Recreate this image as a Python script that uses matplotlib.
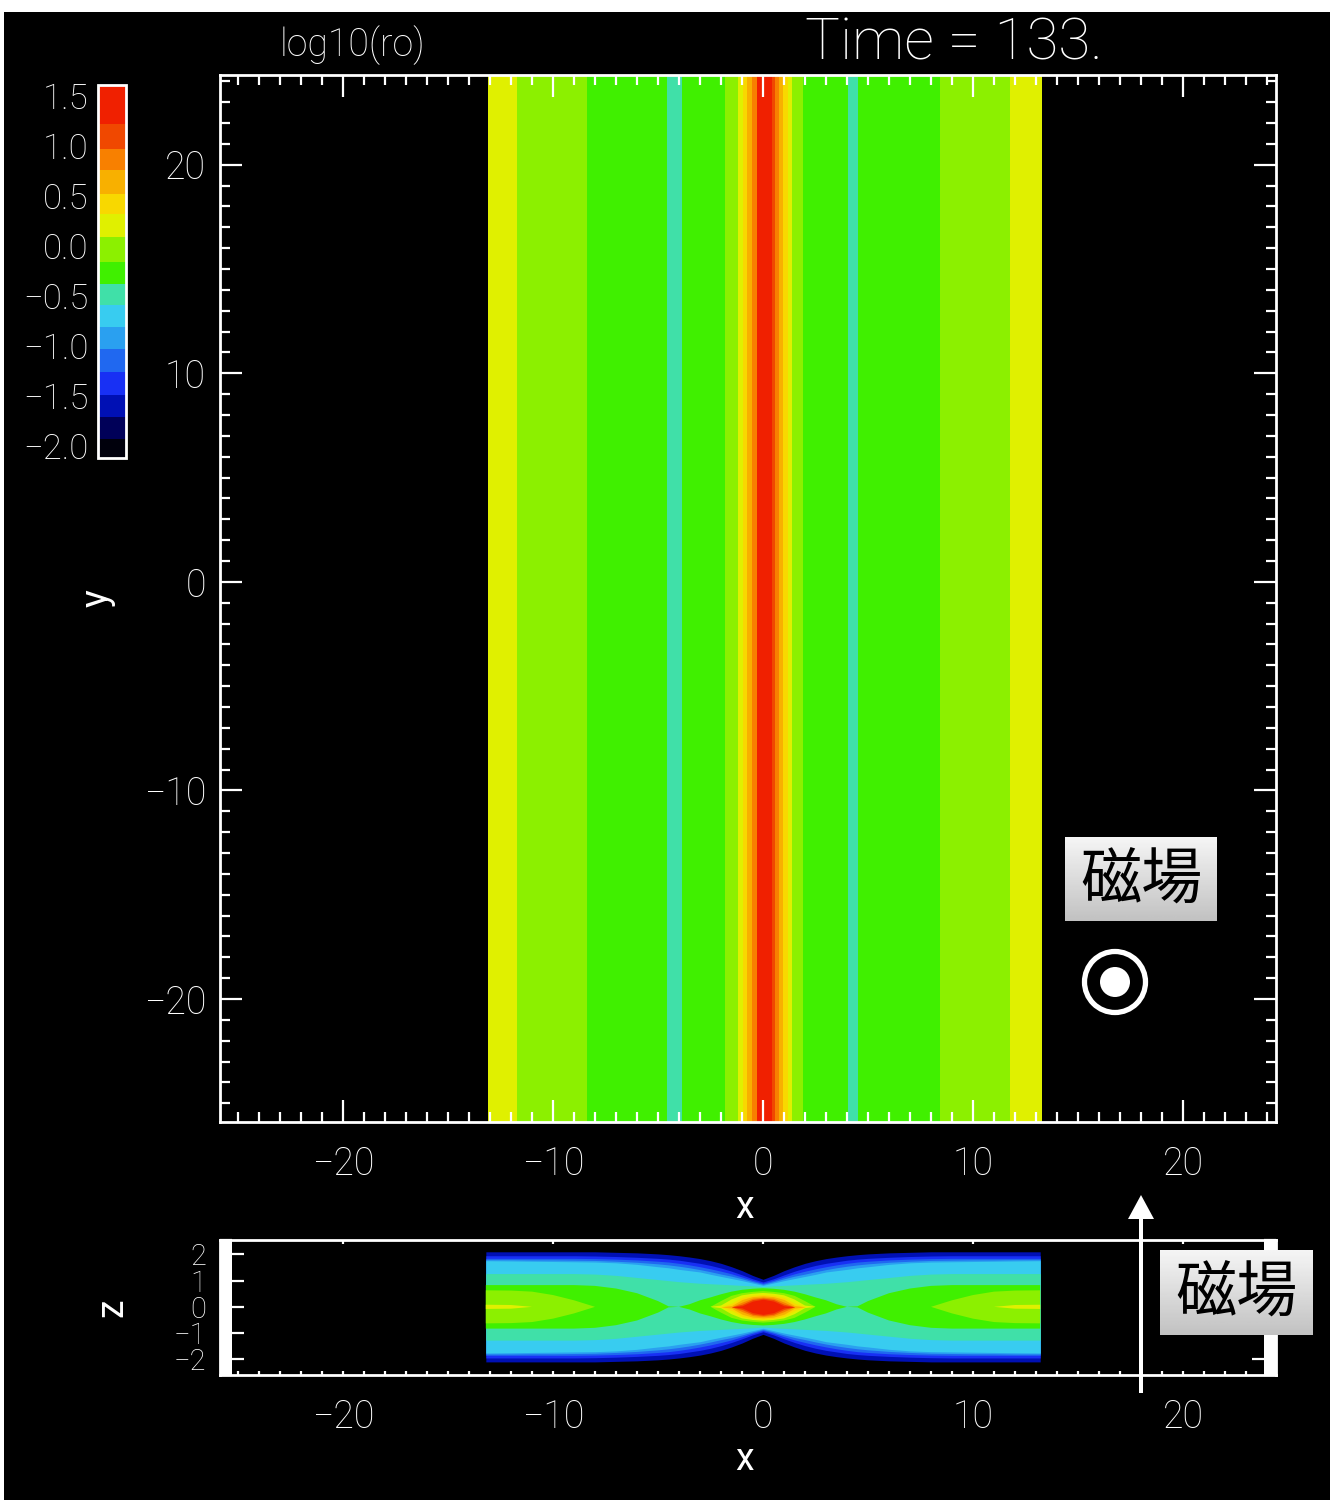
import numpy as np
import matplotlib
matplotlib.use("Agg")
import matplotlib.pyplot as plt
from matplotlib.colors import ListedColormap, BoundaryNorm
from matplotlib.cm import ScalarMappable
from matplotlib.ticker import MultipleLocator, FuncFormatter
from matplotlib.patches import Circle, Rectangle, FancyArrow

# colour table for log10(ro)
levels = [-2.12, -1.93, -1.71, -1.49, -1.26, -1.03, -0.81, -0.59, -0.38,
          -0.16, 0.09, 0.32, 0.52, 0.76, 0.97, 1.22, 1.61]
colors = ["#00000c", "#000058", "#0010b4", "#1830f4", "#2068f0", "#2aa0f0",
          "#38ccf0", "#40e0a8", "#40f000", "#8cf000", "#e0f000", "#f8d800",
          "#f8b000", "#f88000", "#f04800", "#f02000"]
cbar_ticks = [1.5, 1.0, 0.5, 0.0, -0.5, -1.0, -1.5, -2.0]

# x-y cut : log10(ro) is the same for every y
x_edges = [-13.10, -11.71, -8.38, -4.57, -3.86, -1.81, -1.19, -0.95, -0.76,
           -0.52, -0.29, 0.43, 0.57, 0.76, 0.95, 1.19, 1.38, 1.90, 4.05,
           4.52, 8.43, 11.76, 13.29]
log_ro_xy = [0.2, -0.03, -0.27, -0.48, -0.27, -0.03, 0.2, 0.42, 0.64, 0.87,
             1.4, 1.1, 0.87, 0.64, 0.42, 0.2, -0.03, -0.27, -0.48, -0.27,
             -0.03, 0.2]

# x-z cut : half thickness |z| of each colour level vs |x| (mirror symmetric)
x_half = [0, 0.5, 1, 1.5, 2, 2.5, 3, 3.5, 4, 4.5, 5, 6, 7, 8, 9, 10, 11, 12, 13.2]
h_dblue = [1.05, 1.20, 1.38, 1.53, 1.66, 1.76, 1.84, 1.90, 1.95, 1.99, 2.02, 2.06, 2.08, 2.10, 2.10, 2.10, 2.10, 2.10, 2.10]
h_blue = [0.95, 1.07, 1.22, 1.36, 1.48, 1.58, 1.66, 1.72, 1.78, 1.82, 1.85, 1.89, 1.92, 1.94, 1.95, 1.95, 1.95, 1.95, 1.95]
h_mblue = [0.90, 1.01, 1.14, 1.26, 1.36, 1.45, 1.53, 1.60, 1.66, 1.71, 1.74, 1.79, 1.82, 1.84, 1.85, 1.85, 1.85, 1.85, 1.85]
h_sky = [0.86, 0.96, 1.07, 1.17, 1.25, 1.34, 1.42, 1.49, 1.55, 1.60, 1.64, 1.70, 1.74, 1.77, 1.78, 1.79, 1.79, 1.80, 1.80]
h_lblue = [0.82, 0.91, 1.00, 1.08, 1.16, 1.24, 1.33, 1.38, 1.43, 1.49, 1.53, 1.62, 1.68, 1.71, 1.72, 1.73, 1.74, 1.75, 1.76]
h_turq = [0.77, 0.80, 0.82, 0.84, 0.86, 0.88, 0.90, 0.93, 0.96, 1.00, 1.04, 1.12, 1.20, 1.25, 1.27, 1.27, 1.27, 1.27, 1.27]
h_green = [0.71, 0.69, 0.65, 0.58, 0.48, 0.36, 0.25, 0.10, 0.00, 0.02, 0.22, 0.52, 0.70, 0.80, 0.83, 0.83, 0.83, 0.83, 0.83]
h_lgreen = [0.60, 0.57, 0.52, 0.42, 0.22, 0, 0, 0, 0, 0, 0, 0, 0, 0, 0.25, 0.45, 0.58, 0.62, 0.63]
h_ygreen = [0.53, 0.50, 0.44, 0.28, 0.05, 0, 0, 0, 0, 0, 0, 0, 0, 0, 0, 0, 0, 0.07, 0.08]
h_yellow = [0.47, 0.44, 0.36, 0.14, 0, 0, 0, 0, 0, 0, 0, 0, 0, 0, 0, 0, 0, 0, 0]
h_oyellow = [0.42, 0.39, 0.28, 0.05, 0, 0, 0, 0, 0, 0, 0, 0, 0, 0, 0, 0, 0, 0, 0]
h_orange = [0.37, 0.33, 0.18, 0, 0, 0, 0, 0, 0, 0, 0, 0, 0, 0, 0, 0, 0, 0, 0]
h_rorange = [0.33, 0.28, 0.10, 0, 0, 0, 0, 0, 0, 0, 0, 0, 0, 0, 0, 0, 0, 0, 0]
h_red = [0.29, 0.22, 0.04, 0, 0, 0, 0, 0, 0, 0, 0, 0, 0, 0, 0, 0, 0, 0, 0]
xz_layers = [h_dblue, h_blue, h_mblue, h_sky, h_lblue, h_turq, h_green, h_lgreen,
             h_ygreen, h_yellow, h_oyellow, h_orange, h_rorange, h_red]
xz_colour_index = [2, 3, 4, 5, 6, 7, 8, 9, 10, 11, 12, 13, 14, 15]

plt.rcParams["font.family"] = ["Roboto", "DejaVu Sans"]
plt.rcParams["font.weight"] = "light"

cmap = ListedColormap(colors)
norm = BoundaryNorm(levels, cmap.N)

W, H = 1330, 1500
fig = plt.figure(figsize=(13.3, 15), dpi=100, facecolor="black")

def frac(x0, y0, x1, y1):
    return [x0 / W, 1 - y1 / H, (x1 - x0) / W, (y1 - y0) / H]

def style(ax):
    ax.set_facecolor("black")
    for s in ax.spines.values():
        s.set_color("white")
        s.set_linewidth(2)
    ax.tick_params(which="both", direction="in", top=True, right=True,
                   colors="white", width=1.6, labelsize=27)
    ax.tick_params(axis="x", pad=17)
    ax.tick_params(axis="y", pad=10)
    ax.xaxis.set_major_formatter(FuncFormatter(lambda v, p: f"{v:.0f}".replace("-", "\u2212")))
    ax.yaxis.set_major_formatter(FuncFormatter(lambda v, p: f"{v:.0f}".replace("-", "\u2212")))

xlim = (-25.86, 24.43)

# ---- x-y panel
ax = fig.add_axes(frac(220, 75, 1276, 1122))
style(ax)
ax.pcolormesh(x_edges, [-30, 30], np.array([log_ro_xy]), cmap=cmap, norm=norm)
ax.set_xlim(xlim)
ax.set_ylim(-25.9, 24.3)
ax.xaxis.set_major_locator(MultipleLocator(10))
ax.xaxis.set_minor_locator(MultipleLocator(1))
ax.yaxis.set_major_locator(MultipleLocator(10))
ax.yaxis.set_minor_locator(MultipleLocator(1))
ax.tick_params(which="major", length=16)
ax.tick_params(which="minor", length=7)
ax.set_xlabel("x", color="white", fontsize=27)
ax.set_ylabel("y", color="white", fontsize=27)
ax.xaxis.set_label_coords(0.497, -0.064)
ax.yaxis.set_label_coords(-0.099, 0.50)

# ---- x-z panel
ax2 = fig.add_axes(frac(220, 1240, 1276, 1375))
style(ax2)
x_full = np.concatenate([-np.array(x_half[::-1]), np.array(x_half[1:])])
for h, ci in zip(xz_layers, xz_colour_index):
    h_full = np.concatenate([np.array(h[::-1]), np.array(h[1:])])
    ax2.fill_between(x_full, -h_full, h_full, where=h_full > 0, interpolate=True,
                     color=colors[ci], lw=0)
ax2.set_xlim(xlim)
ax2.set_ylim(-2.6, 2.55)
ax2.xaxis.set_major_locator(MultipleLocator(10))
ax2.xaxis.set_minor_locator(MultipleLocator(1))
ax2.yaxis.set_major_locator(MultipleLocator(1))
ax2.yaxis.set_minor_locator(MultipleLocator(0.05))
ax2.tick_params(axis="x", which="both", length=3)
ax2.tick_params(axis="x", which="minor", top=False)
ax2.tick_params(axis="y", which="major", length=17, labelsize=21)
ax2.tick_params(axis="y", which="minor", length=8.6)
ax2.set_xlabel("x", color="white", fontsize=27)
ax2.set_ylabel("z", color="white", fontsize=27)
ax2.xaxis.set_label_coords(0.497, -0.49)
ax2.yaxis.set_label_coords(-0.085, 0.50)

# ---- colour bar
cax = fig.add_axes(frac(98, 85, 126, 458))
cb = fig.colorbar(ScalarMappable(norm=norm, cmap=cmap), cax=cax,
                  spacing="proportional", ticks=cbar_ticks)
cb.outline.set_edgecolor("white")
cb.outline.set_linewidth(2)
cax.yaxis.set_ticks_position("left")
cax.tick_params(length=0, colors="white", labelsize=25, pad=7)
cax.yaxis.set_major_formatter(FuncFormatter(lambda v, p: f"{v:.1f}".replace("-", "\u2212")))

# ---- overlay in pixel coordinates
ov = fig.add_axes([0, 0, 1, 1], zorder=10)
ov.set_facecolor("none")
ov.axis("off")
ov.add_patch(Rectangle((0, 0), W, 12, color="white", lw=0))
ov.add_patch(Rectangle((0, 0), 4, H, color="white", lw=0))

ov.text(352, 45, "log10(ro)", color="white", fontsize=27, ha="center", va="center")
ov.text(805, 44, "Time = 133.", color="white", fontsize=42, ha="left", va="center")

grad = np.linspace(0.96, 0.76, 64).reshape(-1, 1)
for (bx0, by0, bx1, by1) in [(1065, 837, 1217, 921), (1160, 1250, 1313, 1335)]:
    ov.imshow(grad, extent=(bx0, bx1, by1, by0), cmap="gray", vmin=0, vmax=1,
              aspect="auto", zorder=3)
    ov.text((bx0 + bx1) / 2, (by0 + by1) / 2 + 2, "磁場", color="black", fontsize=44,
            family=["Noto Sans CJK JP", "DejaVu Sans"], weight="normal",
            ha="center", va="center", zorder=4)

ov.add_patch(Circle((1115, 982), 30.5, fill=False, ec="white", lw=3.8))
ov.add_patch(Circle((1115, 982), 15, color="white", lw=0))
ov.add_patch(FancyArrow(1141, 1393, 0, -198, width=4, head_width=26, head_length=24,
                        length_includes_head=True, color="white", lw=0))
ov.set_xlim(0, W)
ov.set_ylim(H, 0)

fig.savefig("out.png", dpi=100, facecolor=fig.get_facecolor())
